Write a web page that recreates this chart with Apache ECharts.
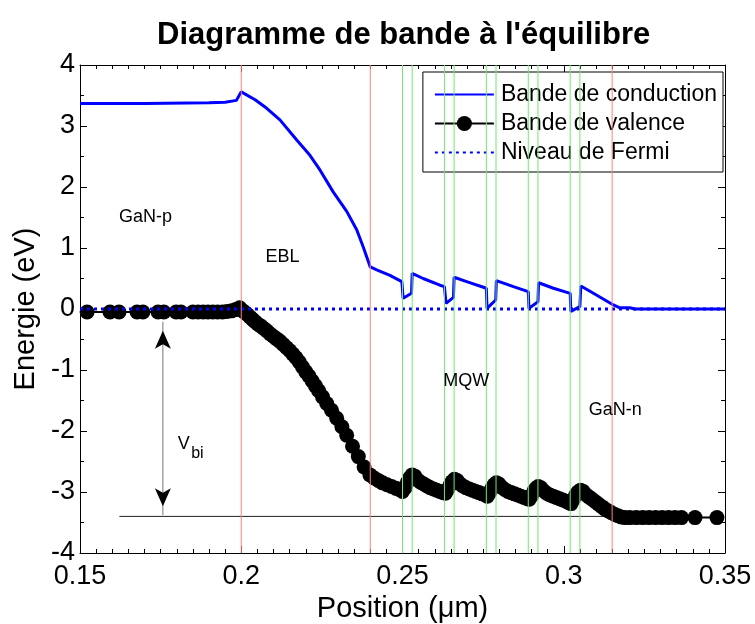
<!DOCTYPE html>
<html><head><meta charset="utf-8">
<script src="https://cdn.jsdelivr.net/npm/echarts@6/dist/echarts.min.js"></script>
<style>html,body{margin:0;padding:0;background:#fff}#c{width:755px;height:624px}</style>
</head><body><div id="c"></div>
<script>
const FONT = 'Liberation Sans, Arial, Helvetica, sans-serif';

const conductionBand = [
  [0.15, 3.37], [0.17, 3.37], [0.19, 3.38], [0.195, 3.39], [0.1985, 3.42], [0.2, 3.56],
  [0.2043, 3.43], [0.2079, 3.29], [0.212, 3.10], [0.2172, 2.77], [0.2213, 2.52], [0.2244, 2.28],
  [0.2285, 1.92], [0.2327, 1.60], [0.2358, 1.30], [0.2378, 1.02], [0.24, 0.69], [0.242, 0.64],
  [0.2461, 0.55], [0.2498, 0.45], [0.2502, 0.175], [0.2528, 0.257], [0.253, 0.585], [0.2564, 0.50],
  [0.2616, 0.39], [0.263, 0.366], [0.2635, 0.093], [0.2658, 0.19], [0.266, 0.52], [0.2699, 0.45],
  [0.276, 0.34], [0.2762, 0.01], [0.2789, 0.148], [0.2791, 0.464], [0.2844, 0.366], [0.289, 0.284],
  [0.2892, 0.01], [0.292, 0.12], [0.2922, 0.43], [0.2968, 0.34], [0.302, 0.257], [0.3022, -0.04],
  [0.305, 0.04], [0.3053, 0.377], [0.3092, 0.257], [0.3154, 0.066], [0.3174, 0.02], [0.3205, 0.02],
  [0.3221, 0.0], [0.35, 0.0]
];

const valenceBand = [
  [0.1522, -0.05], [0.1593, -0.05], [0.1621, -0.05], [0.1677, -0.05], [0.1695, -0.05], [0.1742, -0.05],
  [0.1760, -0.05], [0.1798, -0.05], [0.1813, -0.05], [0.1850, -0.05], [0.1866, -0.05], [0.1882, -0.05],
  [0.1897, -0.05], [0.1912, -0.05], [0.1927, -0.05], [0.1942, -0.05], [0.1956, -0.04], [0.1970, -0.03],
  [0.1983, -0.01], [0.1995, 0.02],
  [0.2005, -0.03], [0.2012, -0.06], [0.2019, -0.09], [0.2027, -0.13], [0.2035, -0.17], [0.2043, -0.21],
  [0.2052, -0.25], [0.2061, -0.28], [0.2070, -0.32], [0.2080, -0.36], [0.2090, -0.41], [0.2100, -0.45],
  [0.2110, -0.49], [0.2120, -0.53], [0.2130, -0.58], [0.2140, -0.63], [0.2150, -0.68], [0.2160, -0.74],
  [0.2170, -0.80], [0.2180, -0.87], [0.2190, -0.95], [0.2200, -1.03], [0.2210, -1.10], [0.2220, -1.18],
  [0.2230, -1.26], [0.2240, -1.34], [0.2252, -1.44], [0.2265, -1.55], [0.2280, -1.66], [0.2296, -1.79],
  [0.2312, -1.93], [0.2327, -2.07], [0.2345, -2.25], [0.2363, -2.42], [0.2381, -2.59], [0.2399, -2.72],
  [0.2412, -2.77], [0.2425, -2.81], [0.2438, -2.85], [0.2452, -2.88], [0.2466, -2.91], [0.2480, -2.94],
  [0.2490, -2.96], [0.2500, -2.99], [0.2508, -2.93], [0.2515, -2.84], [0.2522, -2.77], [0.2530, -2.72],
  [0.2538, -2.74], [0.2546, -2.80], [0.2556, -2.84], [0.2566, -2.87], [0.2576, -2.90], [0.2586, -2.93],
  [0.2596, -2.95], [0.2606, -2.97], [0.2616, -2.99], [0.2626, -3.01], [0.2633, -3.02],
  [0.2640, -2.96], [0.2647, -2.89], [0.2654, -2.83], [0.2661, -2.79], [0.2669, -2.81], [0.2677, -2.86],
  [0.2687, -2.90], [0.2697, -2.93], [0.2707, -2.95], [0.2717, -2.97], [0.2727, -2.99], [0.2737, -3.01],
  [0.2747, -3.03], [0.2757, -3.05], [0.2763, -3.07],
  [0.2770, -3.01], [0.2777, -2.94], [0.2784, -2.88], [0.2791, -2.85], [0.2799, -2.87], [0.2807, -2.92],
  [0.2817, -2.96], [0.2827, -2.99], [0.2837, -3.01], [0.2847, -3.03], [0.2857, -3.05], [0.2867, -3.07],
  [0.2877, -3.09], [0.2887, -3.11], [0.2893, -3.12],
  [0.2900, -3.06], [0.2907, -2.99], [0.2914, -2.94], [0.2921, -2.91], [0.2929, -2.93], [0.2937, -2.98],
  [0.2947, -3.02], [0.2957, -3.05], [0.2967, -3.07], [0.2977, -3.09], [0.2987, -3.11], [0.2997, -3.13],
  [0.3007, -3.15], [0.3017, -3.18], [0.3023, -3.19],
  [0.3030, -3.12], [0.3037, -3.05], [0.3044, -3.00], [0.3052, -2.97], [0.3060, -2.99], [0.3068, -3.04],
  [0.3078, -3.08], [0.3088, -3.12], [0.3098, -3.16], [0.3108, -3.20], [0.3118, -3.24], [0.3128, -3.28],
  [0.3138, -3.31], [0.3148, -3.34], [0.3158, -3.37], [0.3168, -3.39], [0.3178, -3.41], [0.3190, -3.42],
  [0.3205, -3.42], [0.3225, -3.42], [0.3245, -3.42], [0.3265, -3.42], [0.3285, -3.42], [0.3305, -3.42],
  [0.3325, -3.42], [0.3345, -3.42], [0.3365, -3.42], [0.3407, -3.42], [0.3475, -3.42]
];

const fermiLevel = [[0.15, 0], [0.35, 0]];
const regionBoundaries = [0.2, 0.24, 0.315];
const wellBoundaries = [0.25, 0.253, 0.263, 0.266, 0.276, 0.279, 0.289, 0.292, 0.302, 0.305];
const energyRange = [-4, 4];
const vbiBaseLine = [[0.1622, -3.4], [0.3154, -3.4]];
const vbiArrowTips = [[0.1757, -0.21], [0.1757, -3.38]];
const regionLabels = [
  ['GaN-p', 0.1703, 1.5], ['EBL', 0.2128, 0.85], ['MQW', 0.2698, -1.18],
  ['GaN-n', 0.316, -1.66], ['V', 0.1822, -2.22]
];
const subscriptLabels = [['bi', 0.1864, -2.37]];

const seriesNames = ['Bande de conduction', 'Bande de valence', 'Niveau de Fermi'];

const fmtX = v => String(Math.round(v * 1000) / 1000);

const chart = echarts.init(document.getElementById('c'), null, { renderer: 'canvas' });

const axisCommon = {
  axisLine: { show: true, onZero: false, lineStyle: { color: '#000', width: 1 } },
  splitLine: { show: false },
  minorSplitLine: { show: false }
};

const hiddenSymbol = { color: 'rgba(0,0,0,0)', opacity: 0, borderWidth: 0 };

const boundarySeries = (xs, color) => xs.map(x => ({
  type: 'line', z: 6, silent: true, symbol: 'none',
  data: energyRange.map(e => [x, e]),
  lineStyle: { color: color, width: 1 }
}));

chart.setOption({
  animation: false,
  backgroundColor: '#fff',
  title: {
    text: 'Diagramme de bande à l\'équilibre',
    left: 157, top: 20, padding: 0,
    textStyle: { fontFamily: FONT, fontSize: 31, fontWeight: 'bold', color: '#000' }
  },
  legend: {
    data: [
      { name: seriesNames[0], itemStyle: hiddenSymbol },
      { name: seriesNames[1] },
      { name: seriesNames[2], itemStyle: hiddenSymbol }
    ],
    orient: 'vertical',
    right: 32, top: 72,
    backgroundColor: '#fff',
    borderColor: '#000', borderWidth: 1, borderRadius: 0,
    padding: [11, 6, 8, 11],
    itemGap: 6, itemWidth: 59, itemHeight: 19,
    textStyle: { fontFamily: FONT, fontSize: 23, color: '#000', padding: [0, 0, 0, 2] }
  },
  grid: { left: 80, right: 30, top: 65, bottom: 71, containLabel: false, outerBoundsMode: 'none' },
  xAxis: [
    Object.assign({}, axisCommon, {
      type: 'value', min: 0.15, max: 0.35, interval: 0.05, position: 'bottom',
      name: 'Position (μm)', nameLocation: 'middle', nameGap: 41,
      nameTextStyle: { fontFamily: FONT, fontSize: 29, color: '#000' },
      axisTick: { show: true, inside: true, length: 7, lineStyle: { color: '#000' } },
      minorTick: { show: true, splitNumber: 10, length: 4, lineStyle: { color: '#000' } },
      axisLabel: { show: true, formatter: fmtX, fontFamily: FONT, fontSize: 27, color: '#000', margin: 10 }
    }),
    Object.assign({}, axisCommon, {
      type: 'value', min: 0.15, max: 0.35, interval: 0.05, position: 'top',
      axisTick: { show: true, inside: true, length: 7, lineStyle: { color: '#000' } },
      minorTick: { show: true, splitNumber: 10, length: 4, lineStyle: { color: '#000' } },
      axisLabel: { show: false }
    })
  ],
  yAxis: [
    Object.assign({}, axisCommon, {
      type: 'value', min: -4, max: 4, interval: 1, position: 'left',
      name: 'Energie (eV)', nameLocation: 'middle', nameGap: 37, nameRotate: 90,
      nameTextStyle: { fontFamily: FONT, fontSize: 29, color: '#000' },
      axisTick: { show: true, inside: true, length: 7, lineStyle: { color: '#000' } },
      minorTick: { show: true, splitNumber: 2, length: 4, lineStyle: { color: '#000' } },
      axisLabel: { show: true, fontFamily: FONT, fontSize: 27, color: '#000', margin: 5 }
    }),
    Object.assign({}, axisCommon, {
      type: 'value', min: -4, max: 4, interval: 1, position: 'right',
      axisTick: { show: true, inside: true, length: 7, lineStyle: { color: '#000' } },
      minorTick: { show: true, splitNumber: 2, length: 4, lineStyle: { color: '#000' } },
      axisLabel: { show: false }
    })
  ],
  series: [
    {
      name: 'Vbi base', type: 'line', data: vbiBaseLine, symbol: 'none', z: 1,
      lineStyle: { color: '#222', width: 1 }, silent: true
    },
    {
      name: 'Vbi shaft', type: 'line', data: vbiArrowTips, symbol: 'none', z: 1,
      lineStyle: { color: '#777', width: 1 }, silent: true
    },
    {
      name: 'Vbi heads', type: 'scatter', z: 1, silent: true,
      symbol: 'arrow', symbolSize: [12, 18], itemStyle: { color: '#000', opacity: 1 },
      data: [
        { value: vbiArrowTips[0], symbolRotate: 0, symbolOffset: [0, '50%'] },
        { value: vbiArrowTips[1], symbolRotate: 180, symbolOffset: [0, '-50%'] }
      ]
    },
    {
      name: seriesNames[1], type: 'line', data: valenceBand, z: 2,
      symbol: 'circle', symbolSize: 15, showAllSymbol: true,
      itemStyle: { color: '#000' }, lineStyle: { color: '#000', width: 2 }
    },
    {
      name: seriesNames[0], type: 'line', data: conductionBand, z: 3,
      symbol: 'none', itemStyle: { color: '#0000ff' },
      lineStyle: { color: '#0000ff', width: 3 }
    },
    {
      name: seriesNames[2], type: 'line', data: fermiLevel, z: 4,
      symbol: 'none', itemStyle: { color: '#0000ff' },
      lineStyle: { color: '#0000ff', width: 3, type: [3, 4], cap: 'butt' }
    }
  ].concat(boundarySeries(regionBoundaries, '#ff8080'))
   .concat(boundarySeries(wellBoundaries, '#70e870'))
   .concat([{
      name: 'labels', type: 'scatter', z: 7, symbolSize: 1, silent: true,
      itemStyle: { color: 'rgba(0,0,0,0)', opacity: 1 },
      label: { show: true, position: 'inside', formatter: p => p.name, fontFamily: FONT, fontSize: 18, color: '#000', opacity: 1 },
      data: regionLabels.map(r => ({ name: r[0], value: [r[1], r[2]] }))
        .concat(subscriptLabels.map(r => ({ name: r[0], value: [r[1], r[2]], label: { fontSize: 16 } })))
    }])
});
</script>
</body></html>
